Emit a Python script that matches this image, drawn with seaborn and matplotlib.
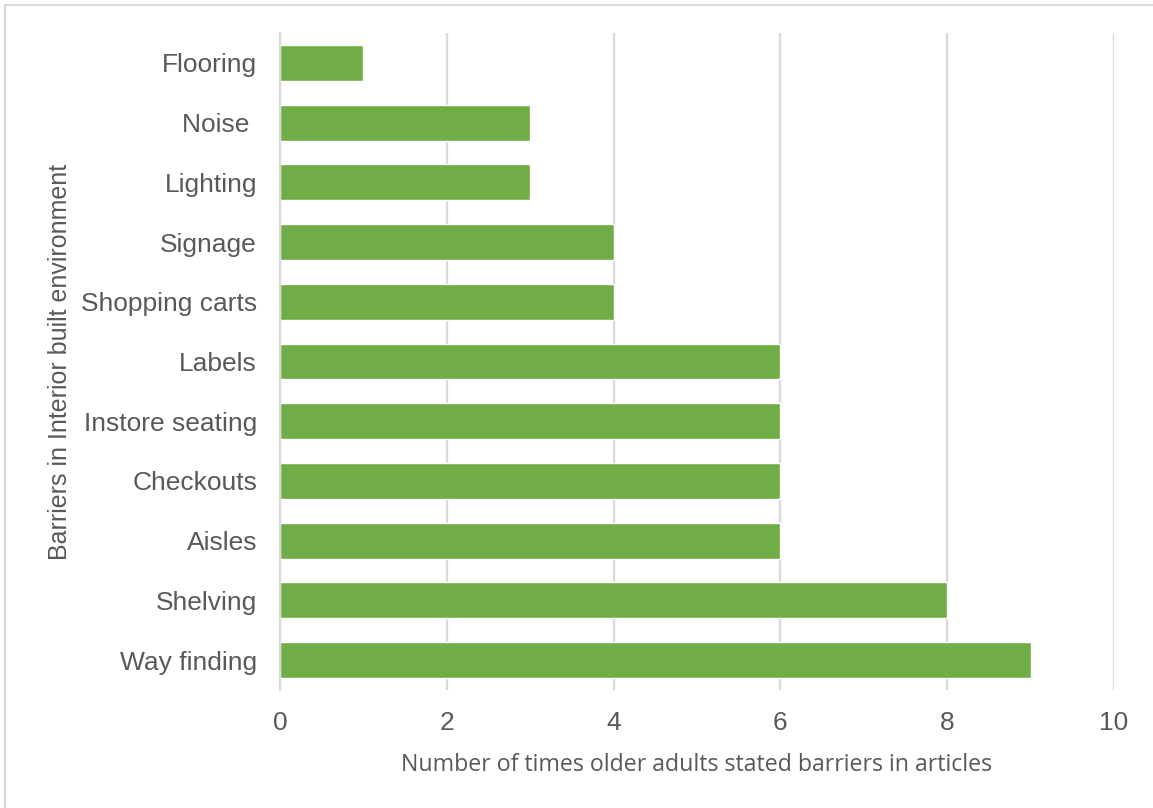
import matplotlib
matplotlib.use("Agg")
import matplotlib.pyplot as plt
import seaborn as sns
import pandas as pd
from matplotlib.patches import Rectangle

categories = ["Flooring", "Noise ", "Lighting", "Signage", "Shopping carts", "Labels",
              "Instore seating", "Checkouts", "Aisles", "Shelving", "Way finding"]
values = [1, 3, 3, 4, 4, 6, 6, 6, 6, 8, 9]
x_ticks = [0, 2, 4, 6, 8, 10]

df = pd.DataFrame({"barrier": categories, "count": values})

sns.set_theme(style="white")
plt.rcParams['font.family'] = ['Liberation Sans', 'DejaVu Sans']

W, H = 1153, 808
fig = plt.figure(figsize=(W / 100, H / 100), dpi=100)
ax = fig.add_axes([280 / W, (H - 690) / H, (1114 - 280) / W, (690 - 33) / H])

sns.barplot(data=df, y="barrier", x="count", order=categories, color="#70AD47",
            saturation=1, width=0.6, ax=ax, zorder=3)

grid_c = "#D9D9D9"
ax.set_xlim(0, 10)
ax.set_ylim(10.5, -0.5)
ax.set_xticks(x_ticks)
ax.set_xticklabels([str(t) for t in x_ticks])
ax.grid(axis="x", color=grid_c, linewidth=1.6, zorder=0)
ax.grid(axis="y", visible=False)
for s in ["top", "right", "bottom"]:
    ax.spines[s].set_visible(False)
ax.spines["left"].set_color(grid_c)
ax.spines["left"].set_linewidth(1.6)
ax.spines["left"].set_zorder(4)
ax.tick_params(axis="both", length=0, labelsize=19, colors="#595959")
ax.tick_params(axis="y", pad=16.5)
ax.tick_params(axis="x", pad=15)

ax.set_xlabel("Number of times older adults stated barriers in articles",
              fontsize=16.7, color="#595959", family=["Open Sans", "DejaVu Sans"])
ax.xaxis.set_label_coords(0.5, (690 - 753) / 657)
ax.set_ylabel("Barriers in Interior built environment", fontsize=18, color="#595959")
ax.yaxis.set_label_coords((72 - 280) / 834, 0.5)

fig.patches.append(Rectangle((5 / W, -0.1), 1.2, (H - 5) / H + 0.1, transform=fig.transFigure,
                             fill=False, edgecolor="#D9D9D9", linewidth=1.5, zorder=0))

fig.savefig("out.png", dpi=100, facecolor="white")
